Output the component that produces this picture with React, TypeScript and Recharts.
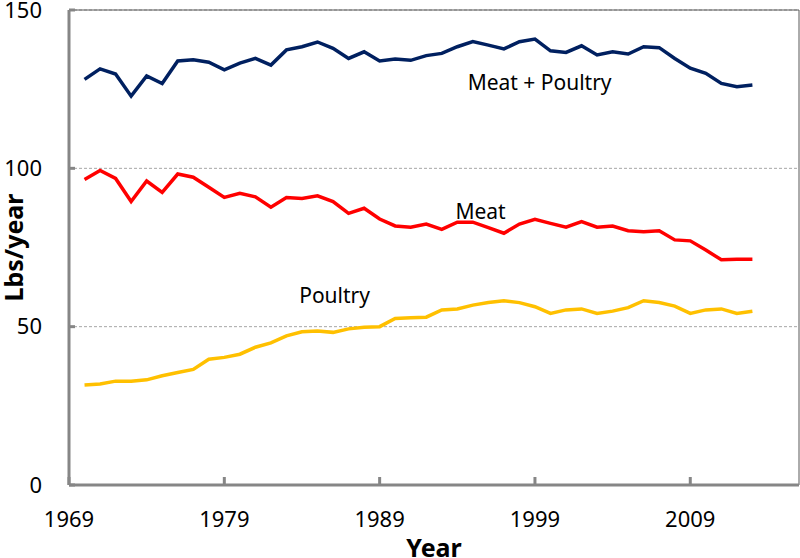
import React from 'react';
import { LineChart, Line, XAxis, YAxis, CartesianGrid, ReferenceLine, ReferenceDot, Label } from 'recharts';

const years = [
  1970, 1971, 1972, 1973, 1974, 1975, 1976, 1977, 1978, 1979,
  1980, 1981, 1982, 1983, 1984, 1985, 1986, 1987, 1988, 1989,
  1990, 1991, 1992, 1993, 1994, 1995, 1996, 1997, 1998, 1999,
  2000, 2001, 2002, 2003, 2004, 2005, 2006, 2007, 2008, 2009,
  2010, 2011, 2012, 2013,
];

const meatPoultry = [
  128.1, 131.4, 129.8, 122.8, 129.2, 126.8, 133.9, 134.3, 133.5, 131.1,
  133.2, 134.7, 132.6, 137.4, 138.4, 139.9, 137.9, 134.7, 136.8, 133.9,
  134.5, 134.1, 135.6, 136.3, 138.4, 140.0, 138.9, 137.7, 140.0, 140.8,
  137.1, 136.6, 138.7, 135.8, 136.8, 136.1, 138.4, 138.1, 134.7, 131.6,
  130.0, 126.8, 125.8, 126.3,
];

const meat = [
  96.5, 99.3, 96.8, 89.5, 96.0, 92.4, 98.2, 97.2, 94.0, 90.8,
  92.1, 91.0, 87.7, 90.8, 90.5, 91.3, 89.5, 85.8, 87.4, 84.0,
  81.8, 81.4, 82.4, 80.7, 83.0, 83.0, 81.3, 79.5, 82.4, 83.9,
  82.6, 81.4, 83.2, 81.4, 81.8, 80.3, 80.0, 80.3, 77.4, 77.1,
  74.2, 71.1, 71.3, 71.3,
];

const poultry = [
  31.6, 31.9, 32.8, 32.8, 33.2, 34.5, 35.5, 36.5, 39.7, 40.3,
  41.3, 43.5, 44.9, 47.1, 48.4, 48.6, 48.2, 49.3, 49.8, 50.0,
  52.6, 52.8, 53.0, 55.3, 55.6, 56.8, 57.6, 58.2, 57.6, 56.3,
  54.2, 55.3, 55.6, 54.2, 54.9, 56.0, 58.2, 57.6, 56.5, 54.2,
  55.3, 55.6, 54.2, 54.9,
];

const xTicks = [1969, 1979, 1989, 1999, 2009];
const xDomain = [1969, 2016];
const yTicks = [0, 50, 100, 150];
const yDomain = [0, 150];

const seriesLabels = [
  { text: 'Meat + Poultry', year: 1999.3, value: 127.0 },
  { text: 'Meat', year: 1995.5, value: 86.2 },
  { text: 'Poultry', year: 1986.1, value: 59.7 },
];

const data = years.map((year, i) => ({
  year,
  meatPoultry: meatPoultry[i],
  meat: meat[i],
  poultry: poultry[i],
}));

const FONT = '"Noto Sans", sans-serif';
const AXIS = '#868686';

export default function App() {
  return (
    <div style={{ position: 'absolute', left: 0, top: 0, width: 800, height: 558, background: '#fff' }}>
      <LineChart
        width={800}
        height={558}
        data={data}
        margin={{ top: 10, right: 1, left: 0, bottom: 0 }}
        style={{ fontFamily: FONT }}
      >
        <CartesianGrid vertical={false} stroke="#A6A6A6" strokeDasharray="3 2" />
        <XAxis
          dataKey="year"
          type="number"
          domain={xDomain}
          ticks={xTicks}
          allowDataOverflow
          height={73}
          axisLine={{ stroke: AXIS, strokeWidth: 3 }}
          tickLine={{ stroke: AXIS, strokeWidth: 3 }}
          tickSize={-8}
          tickMargin={34}
          tick={{ fontSize: 22, fill: '#000', fontFamily: FONT }}
          interval={0}
        >
          <Label value="Year" position="insideBottom" offset={1} style={{ fontSize: 25, fontWeight: 'bold', fill: '#000', fontFamily: FONT }} />
        </XAxis>
        <YAxis
          type="number"
          domain={yDomain}
          ticks={yTicks}
          width={69}
          axisLine={{ stroke: AXIS, strokeWidth: 3 }}
          tickLine={{ stroke: AXIS, strokeWidth: 3 }}
          tickSize={-6}
          tickMargin={33}
          tick={{ fontSize: 22, fill: '#000', fontFamily: FONT }}
          interval={0}
        >
          <Label value="Lbs/year" angle={-90} position="center" dx={-20} style={{ fontSize: 25, fontWeight: 'bold', fill: '#000', fontFamily: FONT, textAnchor: 'middle' }} />
        </YAxis>
        <ReferenceLine y={yDomain[1]} stroke="#595959" strokeWidth={1} />
        <ReferenceLine x={xDomain[1]} stroke="#595959" strokeWidth={1} />
        <Line type="linear" dataKey="meatPoultry" stroke="#002060" strokeWidth={3.5} dot={false} isAnimationActive={false} />
        <Line type="linear" dataKey="meat" stroke="#FF0000" strokeWidth={3.5} dot={false} isAnimationActive={false} />
        <Line type="linear" dataKey="poultry" stroke="#FFC000" strokeWidth={3.5} dot={false} isAnimationActive={false} />
        {seriesLabels.map((l) => (
          <ReferenceDot
            key={l.text}
            x={l.year}
            y={l.value}
            r={0}
            fill="none"
            stroke="none"
            label={<Label value={l.text} position="center" style={{ fontSize: 21, fill: '#000', fontFamily: FONT }} />}
          />
        ))}
      </LineChart>
    </div>
  );
}
